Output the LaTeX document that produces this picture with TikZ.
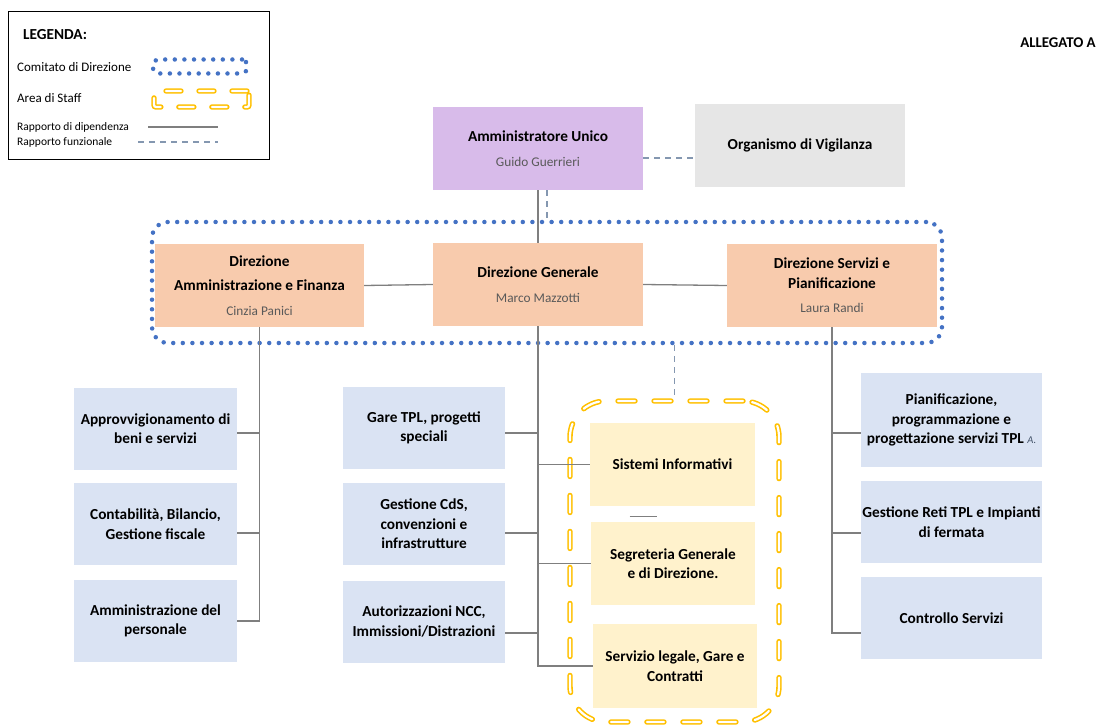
\documentclass[tikz,border=0pt]{standalone}
\usepackage{fontspec}
\setmainfont{Carlito}
\definecolor{viola}{HTML}{D8BBEA}
\definecolor{grigio}{HTML}{E6E6E6}
\definecolor{arancio}{HTML}{F8CBAD}
\definecolor{azzurro}{HTML}{DAE3F3}
\definecolor{giallo}{HTML}{FFF2CC}
\definecolor{oro}{HTML}{FFC000}
\definecolor{blu}{HTML}{4472C4}
\definecolor{linea}{HTML}{7F7F7F}
\definecolor{funz}{HTML}{8497B0}
\definecolor{nome}{HTML}{595959}
\definecolor{nota}{HTML}{44546A}

\begin{document}
\begin{tikzpicture}[x=1pt,y=-1pt,
	dip/.style={draw=linea,line width=1.3pt},
	funzionale/.style={draw=funz,line width=1.3pt,dash pattern=on 6pt off 5pt},
	comitato/.style={draw=blu,line width=4.5pt,line cap=round,dash pattern=on 0pt off 9.6pt,rounded corners=16pt},
	staff/.style={draw=oro,line width=1.6pt,double=white,double distance=2.2pt,line cap=round,dash pattern=on 17pt off 19pt,rounded corners=36pt},
	box/.style={inner sep=0pt,align=center,font=\fontsize{15.3}{19.5}\selectfont\bfseries},
	capo/.style={box,minimum width=210pt,minimum height=83pt},
	uff/.style={box,fill=azzurro,minimum width=163pt,minimum height=82pt},
	sta/.style={box,fill=giallo,minimum width=165pt,minimum height=83pt},
	leg/.style={inner sep=0pt,anchor=west,font=\fontsize{13}{15}\selectfont},
	legs/.style={leg,font=\fontsize{11.5}{13}\selectfont}]
	\useasboundingbox (0,0) rectangle (1097,727);

		\node [draw=black,line width=0.8pt,minimum width=261pt,minimum height=148pt] (L) at (138.5,85) {};
		\node [leg,font=\fontsize{15.3}{18}\selectfont\bfseries] (L0) at (23,35) {LEGENDA:};
		\node [leg] (L1) at (17,67) {Comitato di Direzione};
		\node [leg] (L2) at (17,98) {Area di Staff};
		\node [legs] (L3) at (17,127) {Rapporto di dipendenza};
		\node [legs] (L4) at (17,142) {Rapporto funzionale};
		\node [comitato,minimum width=94pt,minimum height=14pt,rounded corners=5pt] (LC) at (200,66.5) {};
		\node [staff,minimum width=95pt,minimum height=16pt,rounded corners=2pt,dash pattern=on 15pt off 18pt] (LS) at (201.5,99) {};
		\draw [dip] (148,127) -- (218,127);
		\draw [funzionale] (138,142) -- (218,142);

		\node [font=\fontsize{14.9}{16}\selectfont\bfseries] (All) at (1058,43) {ALLEGATO A};

		\node [comitato,minimum width=790pt,minimum height=121pt] (CD) at (547,282.5) {};
		\node [staff,minimum width=209pt,minimum height=321pt] (ST) at (674.5,561.5) {};

		\node [capo,fill=viola] (AU) at (538,148.5) {Amministratore Unico\\[5pt]{\mdseries\fontsize{13.3}{16}\selectfont\color{nome}Guido Guerrieri}};
		\node [capo,fill=grigio] (OdV) at (800,145.5) {Organismo di Vigilanza};
		\node [capo,fill=arancio,minimum width=209pt] (DAF) at (259.5,285.5) {Direzione\\[5pt]Amministrazione e Finanza\\[5pt]{\mdseries\fontsize{13.3}{16}\selectfont\color{nome}Cinzia Panici}};
		\node [capo,fill=arancio] (DG) at (538,284.5) {Direzione Generale\\[5pt]{\mdseries\fontsize{13.3}{16}\selectfont\color{nome}Marco Mazzotti}};
		\node [capo,fill=arancio] (DSP) at (832,285.5) {Direzione Servizi e\\Pianificazione\\[5pt]{\mdseries\fontsize{13.3}{16}\selectfont\color{nome}Laura Randi}};

		\node [uff] (A1) at (155.5,428.5) {Approvvigionamento di\\beni e servizi};
		\node [uff] (A2) at (155.5,524) {Contabilità, Bilancio,\\Gestione fiscale};
		\node [uff] (A3) at (155.5,621) {Amministrazione del\\personale};
		\node [uff,minimum width=162pt] (G1) at (424,428) {Gare TPL, progetti\\speciali};
		\node [uff,minimum width=162pt] (G2) at (424,524) {Gestione CdS,\\convenzioni e\\infrastrutture};
		\node [uff,minimum width=162pt] (G3) at (424,621.5) {Autorizzazioni NCC,\\Immissioni/Distrazioni};
		\node [sta] (S1) at (672.5,464.5) {Sistemi Informativi};
		\node [sta,minimum width=164pt] (S2) at (673,563.5) {Segreteria Generale\\ e di Direzione.};
		\node [sta,minimum width=164pt,minimum height=84pt] (S3) at (675,666) {Servizio legale, Gare e\\Contratti};
		\node [uff,minimum width=181pt,minimum height=94pt] (P1) at (951.5,420) {Pianificazione,\\programmazione e\\progettazione servizi TPL {\mdseries\itshape\fontsize{10.5}{12}\selectfont\color{nota}A.}};
		\node [uff,minimum width=181pt] (P2) at (951.5,522) {Gestione Reti TPL e Impianti\\di fermata};
		\node [uff,minimum width=181pt] (P3) at (951.5,618) {Controllo Servizi};

		\draw [dip] (AU.south) -- (DG.north);
		\draw [funzionale] (AU.south -| CD.north) -- (CD.north);
		\draw [funzionale] ([yshift=-9.5pt]AU.east) -- ([yshift=-9.5pt]AU.east -| OdV.west);
		\draw [dip] (DAF.east) -- (DG.west);
		\draw [dip] (DG.east) -- (DSP.west);
		\draw [funzionale] (CD.south -| ST.north) -- (ST.north);

		\draw [dip] (DAF.south) |- ([yshift=-4.5pt]A1.east);
		\draw [dip] (DAF.south) |- ([yshift=-9pt]A2.east);
		\draw [dip] (DAF.south) |- (A3.east);
		\draw [dip] (DG.south) |- ([yshift=-5pt]G1.east);
		\draw [dip] (DG.south) |- ([yshift=-9pt]G2.east);
		\draw [dip] (DG.south) |- ([yshift=-11.5pt]G3.east);
		\draw [dip] (DG.south) |- (S1.west);
		\draw [dip] (DG.south) |- (S2.west);
		\draw [dip] (DG.south) |- (S3.west);
		\draw [dip] (DSP.south) |- ([yshift=-13pt]P1.west);
		\draw [dip] (DSP.south) |- ([yshift=-11pt]P2.west);
		\draw [dip] (DSP.south) |- ([yshift=-15pt]P3.west);
		\draw [dip] (S1.south) ++(-43,10) -- ++(27,0);
	\end{tikzpicture}
\end{document}
